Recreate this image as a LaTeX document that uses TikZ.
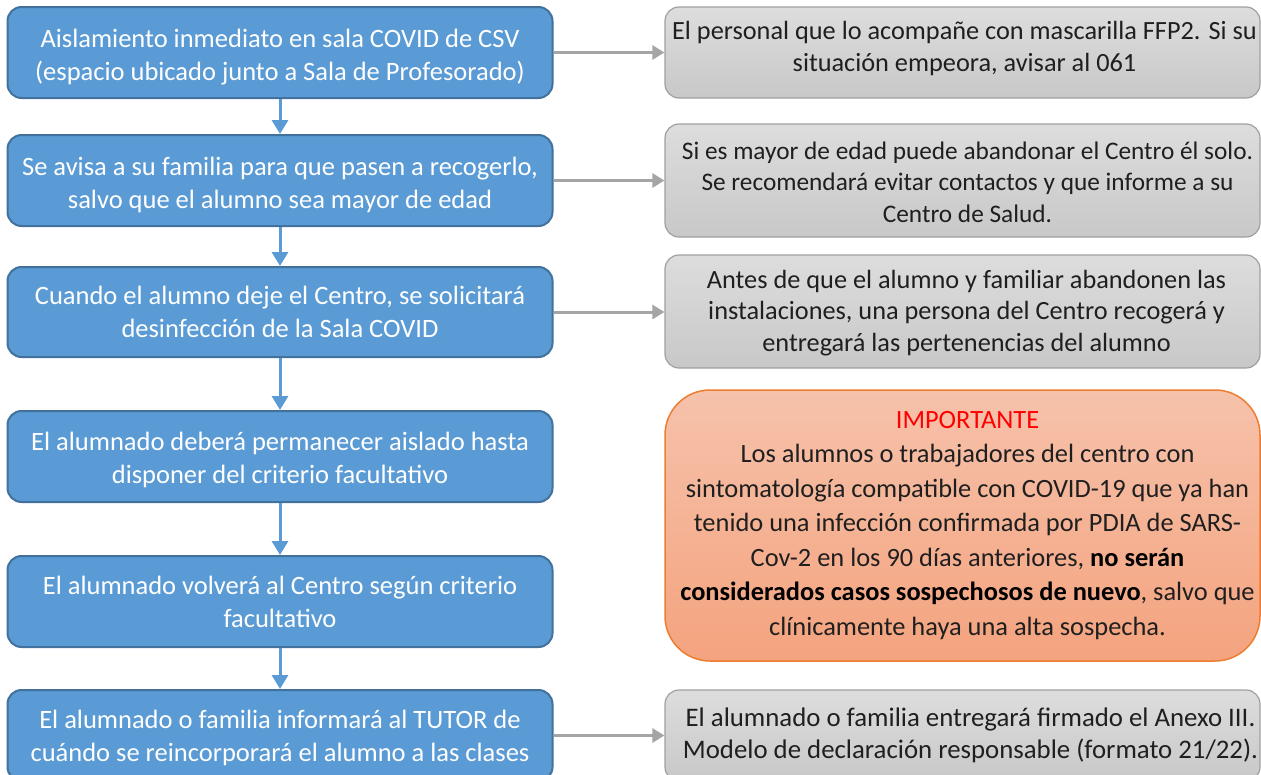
\documentclass[tikz,border=0pt]{standalone}
\usepackage{fontspec}
\setmainfont{Carlito}
\usetikzlibrary{arrows.meta,calc}
\definecolor{lblue}{HTML}{5B9BD5}
\definecolor{lbord}{HTML}{41719C}
\definecolor{gtop}{HTML}{DDDDDD}
\definecolor{gbot}{HTML}{C8C8C8}
\definecolor{gbord}{HTML}{A0A0A0}
\definecolor{otop}{HTML}{F6C2AB}
\definecolor{obot}{HTML}{F4A37E}
\definecolor{obord}{HTML}{ED7D31}
\definecolor{garrow}{HTML}{A5A5A5}
\definecolor{txt}{HTML}{1F1F1F}
\tikzset{
  lbox/.style={draw=lbord, line width=2pt, fill=lblue, rounded corners=14pt,
    minimum width=545pt, inner sep=0pt},
  ltxt/.style={text=white, align=center, inner sep=0pt,
    font=\fontsize{26.5}{33}\selectfont},
  rbox/.style={draw=gbord, line width=1.2pt, top color=gtop, bottom color=gbot,
    rounded corners=14pt, minimum width=595pt, inner sep=0pt},
  rtxt/.style={text=txt, align=center, inner sep=0pt,
    font=\fontsize{26.3}{31.5}\selectfont},
  ibox/.style={draw=obord, line width=1.5pt, top color=otop, bottom color=obot,
    rounded corners=45pt, minimum width=595pt, inner sep=0pt},
  itxt/.style={text=txt, align=center, inner sep=0pt,
    font=\fontsize{26.4}{34.5}\selectfont},
  barrow/.style={draw=lblue, line width=3pt, -{Triangle[width=16pt,length=14pt]}},
  garr/.style={draw=garrow, line width=3pt, -{Triangle[width=14pt,length=12pt]}},
}
\begin{document}
\begin{tikzpicture}[x=1pt,y=-1pt]
\useasboundingbox (0,0) rectangle (1261,774);
\begin{scope}
\clip (0,0) rectangle (1261,774);
% left column boxes
\node[lbox, minimum height=91pt] (L1) at (280,52.5) {};
\node[lbox, minimum height=91pt] (L2) at (280,180.5) {};
\node[lbox, minimum height=90pt] (L3) at (280,312) {};
\node[lbox, minimum height=91pt] (L4) at (280,456.5) {};
\node[lbox, minimum height=91pt] (L5) at (280,601.5) {};
\node[lbox, minimum height=91pt] (L6) at (280,735.5) {};
% left column texts
\node[ltxt] (L1t) at ($(L1.center)+(0,5)$) {Aislamiento inmediato en sala COVID de CSV\\(espacio ubicado junto a Sala de Profesorado)};
\node[ltxt] (L2t) at ($(L2.center)+(0,4)$) {Se avisa a su familia para que pasen a recogerlo,\\salvo que el alumno sea mayor de edad};
\node[ltxt] (L3t) at ($(L3.center)+(0,0)$) {Cuando el alumno deje el Centro, se solicitará\\desinfección de la Sala COVID};
\node[ltxt] (L4t) at ($(L4.center)+(0,3)$) {El alumnado deberá permanecer aislado hasta\\disponer del criterio facultativo};
\node[ltxt] (L5t) at ($(L5.center)+(0,0)$) {El alumnado volverá al Centro según criterio\\facultativo};
\node[ltxt] (L6t) at ($(L6.center)+(0,2)$) {El alumnado o familia informará al TUTOR de\\cuándo se reincorporará el alumno a las clases};
% right column boxes
\node[rbox, minimum height=91pt] (R1) at (962.5,52.5) {};
\node[rbox, minimum height=113pt] (R2) at (962.5,180.5) {};
\node[rbox, minimum height=113pt] (R3) at (962.5,311.5) {};
\node[ibox, minimum height=271pt] (R4) at (962.5,525.5) {};
\node[rbox, minimum height=91pt] (R5) at (962.5,735.5) {};
% right column texts
\node[rtxt] (R1t) at ($(R1.center)+(2,-4)$) {El personal que lo acompañe con mascarilla FFP2. Si su\\situación empeora, avisar al 061};
\node[rtxt, font=\fontsize{25.3}{31.5}\selectfont] (R2t) at ($(R2.center)+(5,1.5)$) {Si es mayor de edad puede abandonar el Centro él solo.\\Se recomendará evitar contactos y que informe a su\\Centro de Salud.};
\node[rtxt] (R3t) at ($(R3.center)+(4,1.5)$) {Antes de que el alumno y familiar abandonen las\\instalaciones, una persona del Centro recogerá y\\entregará las pertenencias del alumno};
\node[itxt] (R4t) at ($(R4.center)+(5,0)$) {\textcolor{red}{IMPORTANTE}\\Los alumnos o trabajadores del centro con\\sintomatología compatible con COVID-19 que ya han\\tenido una infección confirmada por PDIA de SARS-\\Cov-2 en los 90 días anteriores, \textcolor{black}{\bfseries no serán}\\\textcolor{black}{\bfseries considerados casos sospechosos de nuevo}, salvo que\\clínicamente haya una alta sospecha.};
\node[rtxt, font=\fontsize{26.8}{32}\selectfont] (R5t) at ($(R5.center)+(8,0)$) {El alumnado o familia entregará firmado el Anexo III.\\Modelo de declaración responsable (formato 21/22).};
% connectors
\draw[barrow] (L1.south) -- (L2.north);
\draw[barrow] (L2.south) -- (L3.north);
\draw[barrow] (L3.south) -- (L4.north);
\draw[barrow] (L4.south) -- (L5.north);
\draw[barrow] (L5.south) -- (L6.north);
\draw[garr] (L1.east) -- (L1.east -| R1.west);
\draw[garr] (L2.east) -- (L2.east -| R2.west);
\draw[garr] (L3.east) -- (L3.east -| R3.west);
\draw[garr] (L6.east) -- (L6.east -| R5.west);
\end{scope}
\end{tikzpicture}
\end{document}
